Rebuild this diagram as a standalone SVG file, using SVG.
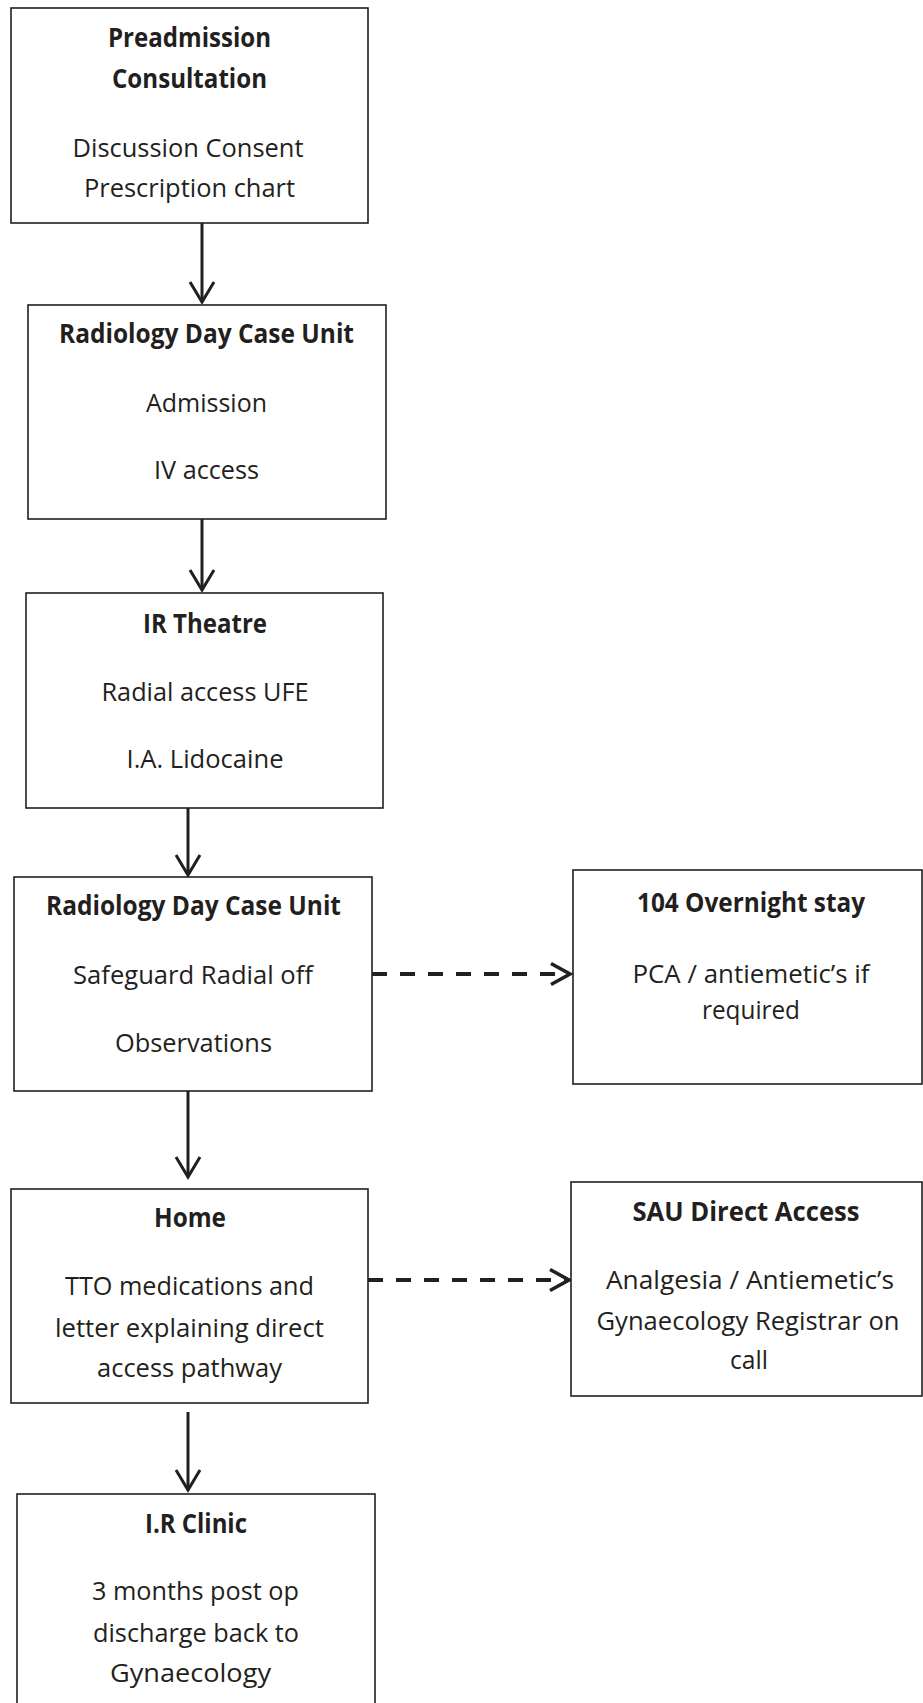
<svg xmlns="http://www.w3.org/2000/svg" width="923" height="1703" viewBox="0 0 923 1703">
<style>
.box{fill:#fff;stroke:#231f20;stroke-width:1.6}
.t{font-family:"Open Sans","Liberation Sans",sans-serif;font-size:26px;fill:#231f20;text-anchor:middle}
.b{font-weight:bold}
.c{fill:none;stroke:#231f20;stroke-width:3}
.d{stroke-width:4;stroke-dasharray:15 13}
</style>
<defs>
<marker id="ah" markerUnits="userSpaceOnUse" viewBox="-24 -16 28 32" refX="0" refY="0" markerWidth="28" markerHeight="32" orient="auto" overflow="visible">
<path d="M-20,-12 L0,0 L-20,12" fill="none" stroke="#231f20" stroke-width="3" stroke-dasharray="none"/>
</marker>
<marker id="ahs" markerUnits="userSpaceOnUse" viewBox="-24 -14 28 28" refX="0" refY="0" markerWidth="28" markerHeight="28" orient="auto" overflow="visible">
<path d="M-19,-10.5 L0,0 L-19,10.5" fill="none" stroke="#231f20" stroke-width="3.6" stroke-dasharray="none"/>
</marker>
</defs>
<rect width="923" height="1703" fill="#fff"/>
<g id="connectors">
<line class="c" x1="202" y1="223" x2="202" y2="302" marker-end="url(#ah)"/>
<line class="c" x1="202" y1="519" x2="202" y2="590" marker-end="url(#ah)"/>
<line class="c" x1="188" y1="808" x2="188" y2="875" marker-end="url(#ah)"/>
<line class="c" x1="188" y1="1091" x2="188" y2="1177" marker-end="url(#ah)"/>
<line class="c" x1="188" y1="1412" x2="188" y2="1490" marker-end="url(#ah)"/>
<line class="c d" x1="372" y1="974" x2="570" y2="974" marker-end="url(#ahs)"/>
<line class="c d" x1="368" y1="1280" x2="569" y2="1280" marker-end="url(#ahs)"/>
</g>
<g id="preadmission">
<rect class="box" x="11" y="8" width="357" height="215"/>
<text class="t b" x="189.5" y="47" textLength="163" lengthAdjust="spacingAndGlyphs">Preadmission</text>
<text class="t b" x="189.5" y="88" textLength="155" lengthAdjust="spacingAndGlyphs">Consultation</text>
<text class="t" x="188" y="157" textLength="231" lengthAdjust="spacingAndGlyphs">Discussion Consent</text>
<text class="t" x="189.5" y="197" textLength="211" lengthAdjust="spacingAndGlyphs">Prescription chart</text>
</g>
<g id="radiology1">
<rect class="box" x="28" y="305" width="358" height="214"/>
<text class="t b" x="206.5" y="343" textLength="295" lengthAdjust="spacingAndGlyphs">Radiology Day Case Unit</text>
<text class="t" x="206.5" y="412" textLength="121" lengthAdjust="spacingAndGlyphs">Admission</text>
<text class="t" x="206.5" y="479" textLength="105" lengthAdjust="spacingAndGlyphs">IV access</text>
</g>
<g id="irtheatre">
<rect class="box" x="26" y="593" width="357" height="215"/>
<text class="t b" x="205" y="633" textLength="124" lengthAdjust="spacingAndGlyphs">IR Theatre</text>
<text class="t" x="205" y="701" textLength="207" lengthAdjust="spacingAndGlyphs">Radial access UFE</text>
<text class="t" x="205" y="768" textLength="157" lengthAdjust="spacingAndGlyphs">I.A. Lidocaine</text>
</g>
<g id="radiology2">
<rect class="box" x="14" y="877" width="358" height="214"/>
<text class="t b" x="193.5" y="915" textLength="295" lengthAdjust="spacingAndGlyphs">Radiology Day Case Unit</text>
<text class="t" x="193" y="984" textLength="240" lengthAdjust="spacingAndGlyphs">Safeguard Radial off</text>
<text class="t" x="193.5" y="1052" textLength="157" lengthAdjust="spacingAndGlyphs">Observations</text>
</g>
<g id="overnight">
<rect class="box" x="573" y="870" width="349" height="214"/>
<text class="t b" x="751" y="912" textLength="228" lengthAdjust="spacingAndGlyphs">104 Overnight stay</text>
<text class="t" x="751" y="983" textLength="237" lengthAdjust="spacingAndGlyphs">PCA / antiemetic’s if</text>
<text class="t" x="751" y="1019" textLength="98" lengthAdjust="spacingAndGlyphs">required</text>
</g>
<g id="home">
<rect class="box" x="11" y="1189" width="357" height="214"/>
<text class="t b" x="190" y="1227" textLength="72" lengthAdjust="spacingAndGlyphs">Home</text>
<text class="t" x="189.5" y="1295" textLength="249" lengthAdjust="spacingAndGlyphs">TTO medications and</text>
<text class="t" x="189.5" y="1337" textLength="269" lengthAdjust="spacingAndGlyphs">letter explaining direct</text>
<text class="t" x="189.5" y="1377" textLength="185" lengthAdjust="spacingAndGlyphs">access pathway</text>
</g>
<g id="sau">
<rect class="box" x="571" y="1182" width="351" height="214"/>
<text class="t b" x="746" y="1221" textLength="227" lengthAdjust="spacingAndGlyphs">SAU Direct Access</text>
<text class="t" x="750" y="1289" textLength="288" lengthAdjust="spacingAndGlyphs">Analgesia / Antiemetic’s</text>
<text class="t" x="748" y="1330" textLength="303" lengthAdjust="spacingAndGlyphs">Gynaecology Registrar on</text>
<text class="t" x="749" y="1369" textLength="38" lengthAdjust="spacingAndGlyphs">call</text>
</g>
<g id="irclinic">
<rect class="box" x="17" y="1494" width="358" height="240"/>
<text class="t b" x="196" y="1533" textLength="102" lengthAdjust="spacingAndGlyphs">I.R Clinic</text>
<text class="t" x="195.5" y="1600" textLength="207" lengthAdjust="spacingAndGlyphs">3 months post op</text>
<text class="t" x="196" y="1642" textLength="206" lengthAdjust="spacingAndGlyphs">discharge back to</text>
<text class="t" x="190.5" y="1682" textLength="161" lengthAdjust="spacingAndGlyphs">Gynaecology</text>
</g>
</svg>
